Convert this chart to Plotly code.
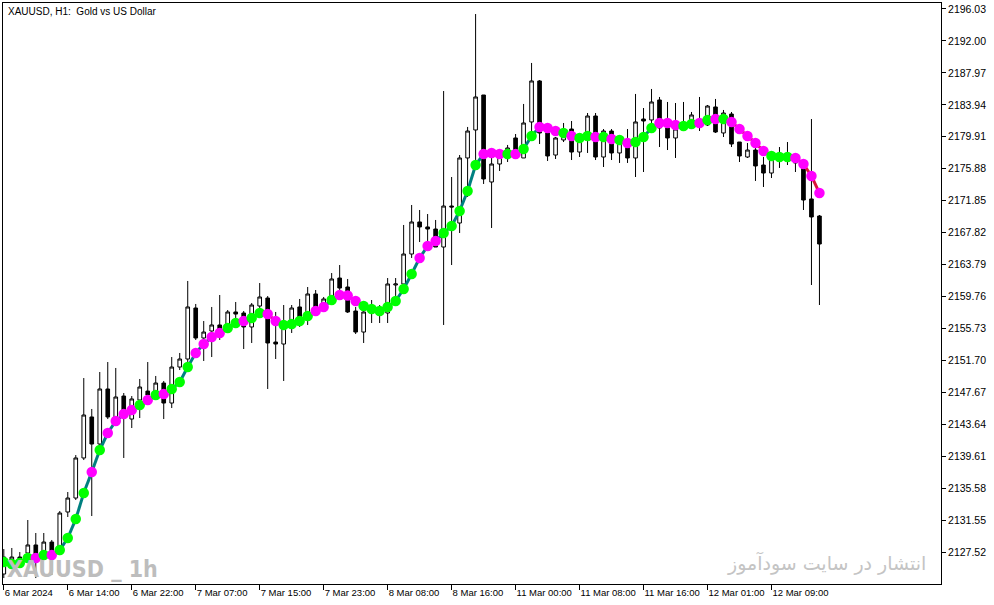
import plotly.graph_objects as go

# XAUUSD H1, 6 Mar 2024 06:00 .. 12 Mar 2024 15:00
bar_open = [
    2124.78, 2126.29, 2126.92, 2127.43, 2128.44, 2127.17, 2128.81, 2127.55, 2132.60, 2134.36,
    2139.41, 2144.58, 2141.17, 2148.11, 2144.58, 2147.22, 2144.32, 2146.72, 2147.85, 2147.73,
    2148.86, 2146.34, 2150.88, 2151.89, 2158.32, 2154.54, 2155.42, 2156.18, 2156.05, 2157.82,
    2157.69, 2155.93, 2158.57, 2159.58, 2154.03, 2153.78, 2156.43, 2158.45, 2156.93, 2160.09,
    2158.70, 2159.58, 2162.10, 2160.97, 2157.94, 2155.29, 2157.94, 2157.94, 2157.69, 2161.22,
    2161.35, 2165.13, 2169.17, 2168.54, 2168.28, 2166.01, 2171.18, 2169.04, 2177.24, 2180.77,
    2185.18, 2174.21, 2176.48, 2177.24, 2179.76, 2177.24, 2181.78, 2186.95, 2180.39, 2177.61,
    2179.51, 2180.89, 2177.99, 2180.14, 2182.53, 2177.36, 2180.64, 2177.87, 2179.25, 2177.24,
    2182.15, 2182.03, 2184.55, 2181.02, 2179.76, 2181.15, 2181.65, 2182.03, 2181.40, 2183.67,
    2180.39, 2182.78, 2179.25, 2177.36, 2178.24, 2176.35, 2175.34, 2177.61, 2177.11, 2177.24,
    2176.48, 2172.07, 2169.92,
]
bar_high = [
    2127.93, 2128.06, 2127.55, 2131.59, 2129.95, 2129.95, 2129.07, 2132.72, 2135.12, 2139.78,
    2149.49, 2145.59, 2150.25, 2151.51, 2150.76, 2147.60, 2147.22, 2149.37, 2151.51, 2149.75,
    2149.12, 2152.14, 2152.65, 2161.73, 2158.83, 2156.68, 2158.45, 2159.96, 2158.07, 2159.08,
    2157.94, 2158.95, 2161.47, 2159.83, 2157.82, 2158.70, 2158.70, 2159.46, 2160.97, 2160.59,
    2159.71, 2162.73, 2163.74, 2161.98, 2158.45, 2158.95, 2159.33, 2158.70, 2162.10, 2162.10,
    2168.79, 2171.31, 2170.68, 2170.17, 2169.42, 2185.68, 2174.84, 2177.61, 2181.15, 2195.39,
    2185.18, 2177.36, 2178.24, 2178.88, 2180.26, 2184.05, 2189.22, 2187.07, 2181.15, 2179.88,
    2181.65, 2181.90, 2179.88, 2182.91, 2182.91, 2180.89, 2180.89, 2179.51, 2180.89, 2185.31,
    2183.54, 2185.94, 2184.93, 2184.30, 2184.17, 2184.30, 2183.04, 2184.93, 2183.92, 2184.68,
    2183.29, 2183.04, 2179.25, 2179.13, 2179.51, 2177.36, 2177.87, 2178.62, 2179.25, 2177.61,
    2176.73, 2182.15, 2170.05,
]
bar_low = [
    2124.27, 2125.66, 2125.79, 2126.54, 2124.27, 2126.54, 2124.65, 2127.17, 2131.97, 2134.11,
    2139.15, 2132.09, 2140.92, 2144.32, 2144.20, 2139.41, 2143.19, 2144.45, 2146.34, 2147.48,
    2144.32, 2145.71, 2150.50, 2151.51, 2154.29, 2151.64, 2152.14, 2154.29, 2155.67, 2156.43,
    2153.15, 2153.91, 2158.32, 2148.11, 2151.89, 2149.12, 2155.17, 2155.93, 2156.18, 2157.69,
    2158.07, 2159.33, 2160.21, 2157.69, 2155.04, 2153.91, 2156.43, 2156.43, 2156.43, 2159.33,
    2160.59, 2164.63, 2166.64, 2166.52, 2166.01, 2156.18, 2163.74, 2167.78, 2172.32, 2176.98,
    2173.96, 2168.41, 2175.60, 2176.73, 2177.24, 2177.24, 2180.39, 2179.00, 2176.86, 2177.11,
    2179.25, 2176.98, 2177.36, 2177.87, 2176.98, 2176.10, 2176.98, 2176.61, 2176.61, 2174.84,
    2175.47, 2181.27, 2178.62, 2178.24, 2177.24, 2180.77, 2181.27, 2180.64, 2181.27, 2180.39,
    2179.88, 2178.62, 2176.73, 2177.24, 2174.34, 2173.58, 2174.71, 2175.98, 2176.35, 2175.47,
    2170.68, 2161.22, 2158.70,
]
bar_close = [
    2126.92, 2126.92, 2126.54, 2128.44, 2126.42, 2128.81, 2126.92, 2132.47, 2134.36, 2139.41,
    2144.83, 2141.17, 2148.11, 2144.58, 2147.10, 2144.58, 2146.85, 2148.36, 2147.35, 2148.86,
    2146.34, 2150.88, 2151.89, 2158.45, 2154.54, 2155.29, 2156.18, 2155.42, 2157.82, 2157.56,
    2155.93, 2158.70, 2159.71, 2153.91, 2153.78, 2156.18, 2158.32, 2157.06, 2160.09, 2158.45,
    2159.46, 2161.98, 2160.84, 2157.82, 2155.29, 2157.82, 2158.20, 2158.07, 2161.35, 2161.35,
    2165.13, 2169.17, 2168.54, 2168.28, 2166.01, 2171.18, 2171.06, 2177.24, 2180.64, 2184.93,
    2174.59, 2176.48, 2177.49, 2178.50, 2177.24, 2181.65, 2186.95, 2180.39, 2177.49, 2179.76,
    2180.26, 2177.99, 2179.63, 2182.53, 2177.36, 2180.64, 2177.87, 2179.25, 2177.24, 2181.78,
    2181.90, 2184.30, 2181.02, 2179.76, 2180.89, 2181.52, 2182.66, 2181.52, 2183.79, 2180.51,
    2182.91, 2179.00, 2177.49, 2178.24, 2176.23, 2175.34, 2177.61, 2176.98, 2177.36, 2176.61,
    2171.94, 2169.80, 2166.39,
]

# moving-average indicator and its per-bar signal (1 = lime dot, -1 = magenta dot)
ma_values = [
    2126.29, 2126.04, 2126.16, 2126.80, 2126.80, 2127.17, 2127.17, 2127.80, 2129.32, 2131.71,
    2134.99, 2137.64, 2140.41, 2142.56, 2144.07, 2144.95, 2145.46, 2146.09, 2146.72, 2147.35,
    2147.48, 2148.11, 2148.99, 2150.88, 2152.65, 2153.78, 2154.66, 2155.17, 2155.80, 2156.43,
    2156.68, 2157.06, 2157.69, 2157.56, 2156.68, 2156.18, 2156.30, 2156.68, 2157.31, 2157.94,
    2158.45, 2159.33, 2159.96, 2159.90, 2159.20, 2158.57, 2158.20, 2157.94, 2158.45, 2159.20,
    2160.72, 2162.61, 2164.63, 2166.14, 2166.77, 2167.78, 2168.66, 2170.55, 2173.07, 2176.35,
    2177.74, 2177.87, 2177.74, 2177.74, 2177.74, 2178.37, 2180.01, 2181.15, 2181.02, 2180.64,
    2180.39, 2180.01, 2179.76, 2180.01, 2179.88, 2179.88, 2179.63, 2179.51, 2179.13, 2179.25,
    2179.88, 2181.02, 2181.65, 2181.65, 2181.40, 2181.27, 2181.52, 2181.65, 2182.03, 2182.15,
    2182.15, 2181.78, 2180.89, 2180.01, 2179.13, 2178.12, 2177.49, 2177.36, 2177.36, 2177.24,
    2176.48, 2174.97, 2172.82,
]
ma_signal = [
    1, 1, 1, 1, -1, 1, -1, 1, 1, 1,
    1, -1, 1, -1, -1, -1, -1, 1, -1, 1,
    -1, 1, 1, 1, -1, -1, -1, -1, 1, 1,
    -1, 1, 1, -1, -1, 1, 1, 1, 1, -1,
    -1, 1, -1, -1, -1, 1, 1, 1, 1, 1,
    1, 1, -1, -1, -1, 1, 1, 1, 1, 1,
    -1, -1, -1, 1, -1, 1, 1, -1, -1, -1,
    1, -1, 1, 1, -1, 1, -1, 1, -1, 1,
    1, 1, -1, -1, -1, 1, 1, -1, 1, -1,
    1, -1, -1, -1, -1, -1, 1, 1, 1, -1,
    -1, -1, -1,
]

x_tick_index = [0, 8, 16, 24, 32, 40, 48, 56, 64, 72, 80, 88, 96]
x_tick_labels = [
    "6 Mar 2024", "6 Mar 14:00", "6 Mar 22:00", "7 Mar 07:00", "7 Mar 15:00",
    "7 Mar 23:00", "8 Mar 08:00", "8 Mar 16:00", "11 Mar 00:00", "11 Mar 08:00",
    "11 Mar 16:00", "12 Mar 01:00", "12 Mar 09:00",
]
y_tick_values = [
    2196.03, 2192.00, 2187.97, 2183.94, 2179.91, 2175.88, 2171.85, 2167.82, 2163.79,
    2159.76, 2155.73, 2151.70, 2147.67, 2143.64, 2139.61, 2135.58, 2131.55, 2127.52,
]

bars = list(range(len(bar_open)))

# split the indicator line into rising (teal) and falling (red) pieces
up_x, up_y, dn_x, dn_y = [], [], [], []
for i in range(len(ma_values) - 1):
    if ma_values[i + 1] >= ma_values[i]:
        up_x += [bars[i], bars[i + 1], None]
        up_y += [ma_values[i], ma_values[i + 1], None]
    else:
        dn_x += [bars[i], bars[i + 1], None]
        dn_y += [ma_values[i], ma_values[i + 1], None]

dot_colors = ["#00FF00" if s > 0 else "#FF00FF" for s in ma_signal]

fig = go.Figure()

fig.add_trace(go.Candlestick(
    x=bars, open=bar_open, high=bar_high, low=bar_low, close=bar_close,
    increasing=dict(fillcolor="white", line=dict(color="black", width=1)),
    decreasing=dict(fillcolor="black", line=dict(color="black", width=1)),
    whiskerwidth=0, hoverinfo="skip", showlegend=False,
))
fig.add_trace(go.Scatter(x=up_x, y=up_y, mode="lines", line=dict(color="#008080", width=3),
                         hoverinfo="skip", showlegend=False))
fig.add_trace(go.Scatter(x=dn_x, y=dn_y, mode="lines", line=dict(color="#DC143C", width=3),
                         hoverinfo="skip", showlegend=False))
fig.add_trace(go.Scatter(x=bars, y=ma_values, mode="markers",
                         marker=dict(color=dot_colors, size=10.5, line=dict(width=0)),
                         hoverinfo="skip", showlegend=False))

# chart caption and watermarks
fig.add_annotation(text="XAUUSD, H1:  Gold vs US Dollar", xref="paper", yref="paper",
                   x=0.003, y=0.999, xanchor="left", yanchor="top", showarrow=False,
                   font=dict(family="Liberation Sans, Arial, sans-serif", size=10, color="black"))
fig.add_annotation(text="<b>XAUUSD _ 1h</b>", xref="paper", yref="paper",
                   x=0.002, y=0.0, xanchor="left", yanchor="bottom", showarrow=False,
                   font=dict(family="DejaVu Sans Condensed, Liberation Sans Narrow, Arial Narrow, sans-serif",
                             size=23, color="#bdbdbd"))
fig.add_annotation(text="انتشار در سایت سودآموز", xref="paper", yref="paper",
                   x=0.9865, y=0.012, xanchor="right", yanchor="bottom", showarrow=False,
                   font=dict(family="DejaVu Sans, Noto Sans, sans-serif", size=19, color="#c4c4c4"))

fig.update_layout(
    width=994, height=605,
    margin=dict(l=3, r=53, t=3, b=21, autoexpand=False),
    paper_bgcolor="white", plot_bgcolor="white",
    boxgap=0.35,
    xaxis=dict(
        range=[-0.1, 117.2], rangeslider=dict(visible=False),
        tickmode="array", tickvals=x_tick_index, ticktext=x_tick_labels,
        ticks="outside", ticklen=5, tickcolor="black", tickangle=0,
        ticklabelposition="outside right", automargin=False,
        showgrid=False, zeroline=False,
        showline=True, linecolor="black", linewidth=1, mirror=True,
        tickfont=dict(family="Liberation Sans, Arial, sans-serif", size=9.5, color="black"),
    ),
    yaxis=dict(
        side="right", range=[2123.52, 2196.78], automargin=False,
        tickmode="array", tickvals=y_tick_values, ticktext=[f"{v:.2f}" for v in y_tick_values],
        ticks="outside", ticklen=4, tickcolor="black",
        showgrid=False, zeroline=False,
        showline=True, linecolor="black", linewidth=1, mirror=True,
        tickfont=dict(family="Liberation Sans, Arial, sans-serif", size=10.5, color="black"),
    ),
)

# the page's default body margin would push the fixed-size figure off the window
fig.write_html("out.html", config={"displayModeBar": False},
               post_script="document.body.style.margin='0';")
